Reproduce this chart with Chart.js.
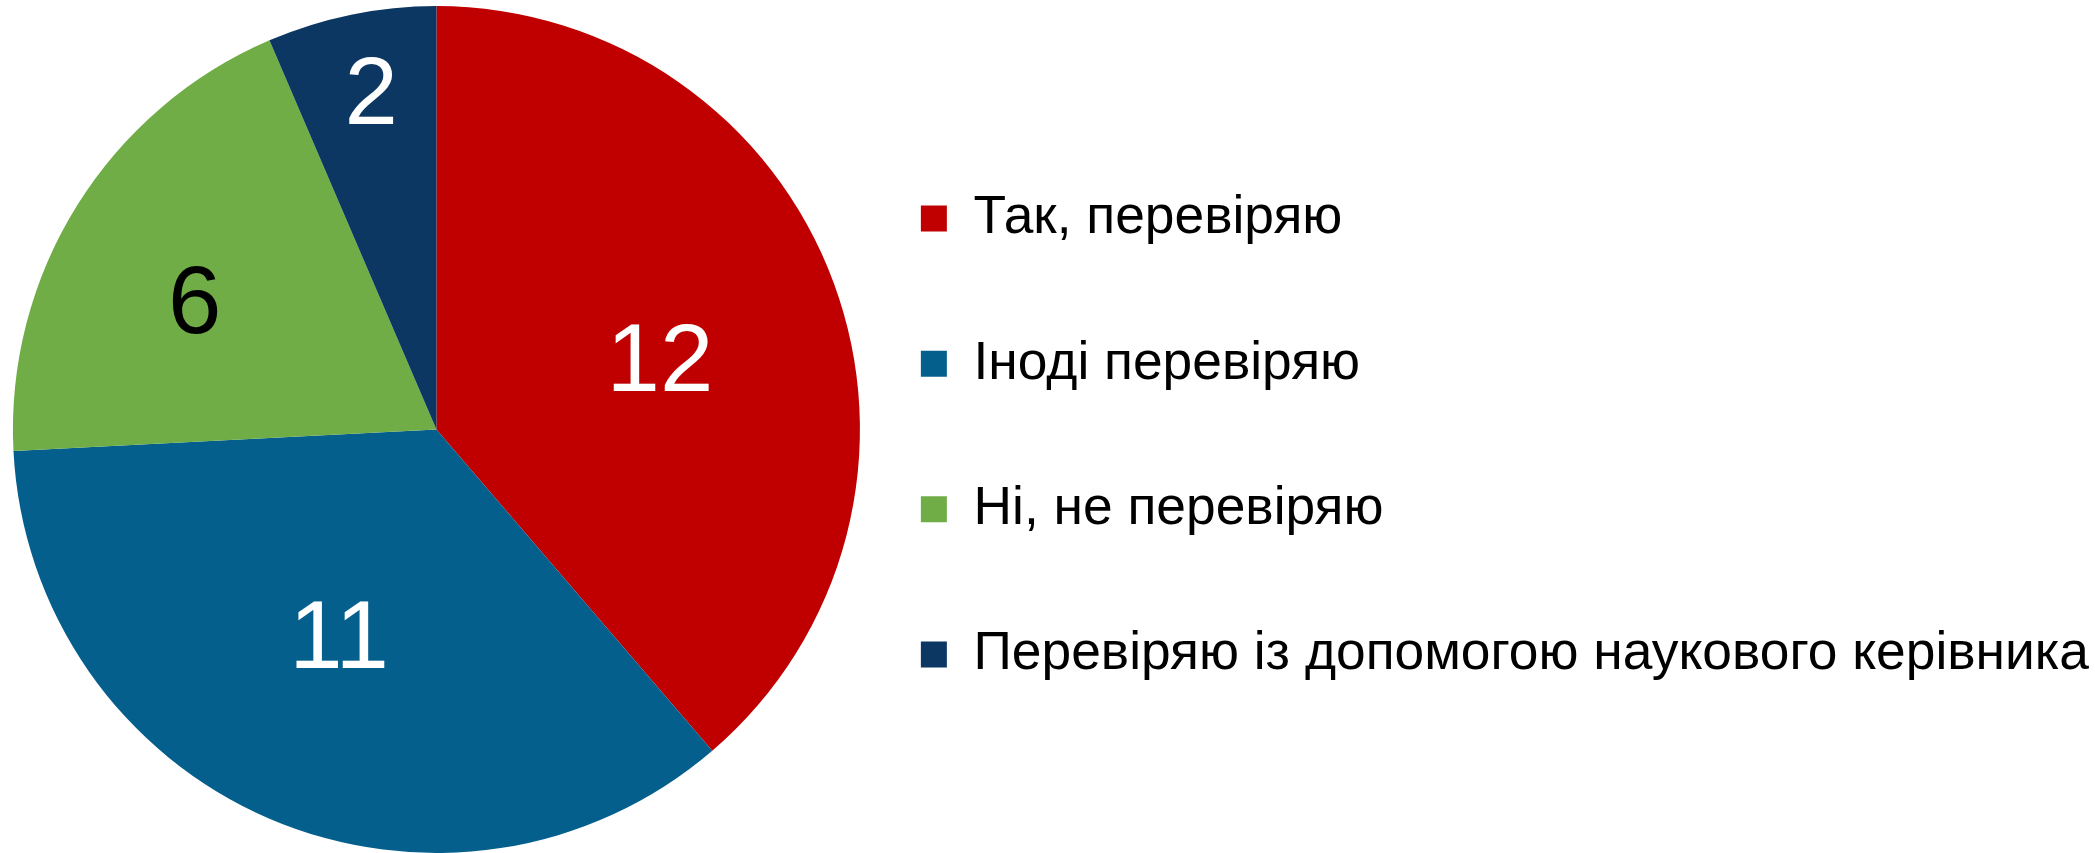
<!DOCTYPE html>
<html>
<head>
<meta charset="utf-8">
<script src="https://cdn.jsdelivr.net/npm/chart.js@4/dist/chart.umd.min.js"></script>
<style>
  html, body { margin: 0; padding: 0; background: #fff; }
  #wrap { width: 2095px; height: 853px; }
</style>
</head>
<body>
<div id="wrap"><canvas id="answerChart" width="2095" height="853"></canvas></div>
<script>
// Categories and values
const answerLabels = [
    'Так, перевіряю',
    'Іноді перевіряю',
    'Ні, не перевіряю',
    'Перевіряю із допомогою наукового керівника'
];
const answerCounts = [12, 11, 6, 2];
const sliceColors = ['#C00000', '#055F8C', '#70AD47', '#0B3762'];
const valueTextColors = ['#ffffff', '#ffffff', '#000000', '#ffffff'];

// Draws the numbers on the slices (no datalabels plugin available offline)
const sliceValues = {
    id: 'sliceValues',
    afterDatasetsDraw(chart, args, opts) {
        const ctx = chart.ctx;
        const meta = chart.getDatasetMeta(0);
        ctx.save();
        ctx.font = opts.size + 'px ' + opts.family;
        ctx.textAlign = 'center';
        ctx.textBaseline = 'middle';
        meta.data.forEach((arc, i) => {
            const p = arc.getProps(['x', 'y', 'startAngle', 'endAngle', 'outerRadius'], true);
            const mid = (p.startAngle + p.endAngle) / 2 + opts.turn[i] * Math.PI / 180;
            const r = p.outerRadius * opts.radial[i];
            ctx.fillStyle = valueTextColors[i];
            ctx.fillText(String(chart.data.datasets[0].data[i]), p.x + Math.cos(mid) * r, p.y + Math.sin(mid) * r);
        });
        ctx.restore();
    }
};

// Nudges the layout: widens the pie area and moves the legend a bit
const layoutNudge = {
    id: 'layoutNudge',
    afterLayout(chart, args, opts) {
        const area = chart.chartArea;
        area.right += opts.areaRight;
        area.width = area.right - area.left;
        const lg = chart.legend;
        lg.left += opts.legendX;
        lg.right += opts.legendX;
        lg.top += opts.legendY;
        lg.bottom += opts.legendY;
    }
};

const answerCtx = document.getElementById('answerChart').getContext('2d');

new Chart(answerCtx, {
    type: 'pie',
    data: {
        labels: answerLabels,
        datasets: [{
            data: answerCounts,
            backgroundColor: sliceColors,
            borderWidth: 0
        }]
    },
    options: {
        responsive: false,
        animation: false,
        layout: { padding: { top: 6, bottom: 0, left: 12, right: 0 } },
        plugins: {
            tooltip: { enabled: false },
            legend: {
                position: 'right',
                maxWidth: 1400,
                labels: {
                    boxWidth: 26,
                    boxHeight: 26,
                    padding: 92,
                    color: '#000',
                    font: { family: '"Liberation Sans", Arial, sans-serif', size: 53.33 }
                }
            },
            sliceValues: {
                family: '"Liberation Sans", Arial, sans-serif',
                size: 96,
                radial: [0.55, 0.55, 0.64, 0.8],
                turn: [4, 1.5, -5, 0.5]
            },
            layoutNudge: { areaRight: 36, legendX: 4, legendY: 7 }
        }
    },
    plugins: [sliceValues, layoutNudge]
});
</script>
</body>
</html>
